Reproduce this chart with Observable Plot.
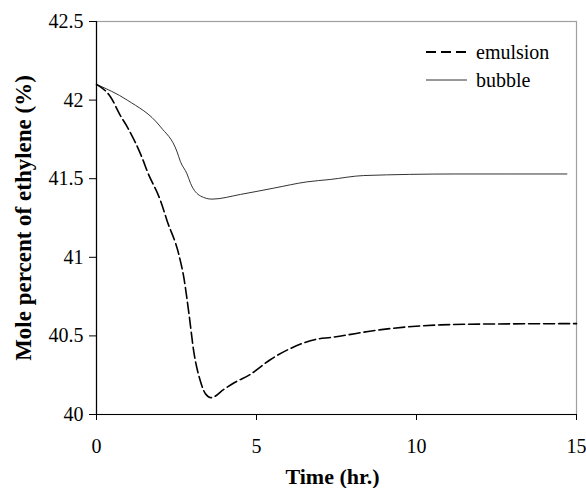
<!DOCTYPE html>
<html>
<head>
<meta charset="utf-8">
<script src="https://cdn.jsdelivr.net/npm/d3@7"></script>
<script src="https://cdn.jsdelivr.net/npm/@observablehq/plot@0.6"></script>
<style>
  body { margin: 0; background: #fff; }
  #wrap { position: relative; width: 586px; height: 488px; }
  #legend { position: absolute; left: 426px; top: 38px; font-size: 20px; line-height: 28px; }
  #legend div { display: flex; align-items: center; height: 28px; }
  #legend svg { margin-right: 9px; }
</style>
</head>
<body>
<div id="wrap"></div>
<script>
const emulsionT = [0, 0.44, 0.75, 0.96, 1.47, 1.58, 2.0, 2.21, 2.57, 2.73, 2.89, 3.04, 3.25, 3.41, 3.58, 3.98, 4.29, 4.81, 5.44, 6.06, 6.9, 7.31, 8.9, 10.75, 12.5, 15];
const emulsionY = [42.1, 42.02, 41.9, 41.83, 41.61, 41.55, 41.36, 41.23, 41.02, 40.87, 40.64, 40.4, 40.21, 40.13, 40.107, 40.16, 40.2, 40.256, 40.35, 40.42, 40.48, 40.49, 40.54, 40.57, 40.576, 40.578];
const bubbleT = [0, 0.96, 2.0, 2.52, 2.62, 2.83, 2.94, 3.25, 3.61, 4.5, 5.54, 6.58, 7.3, 8.35, 11.2, 14.7];
const bubbleY = [42.1, 42.0, 41.83, 41.67, 41.61, 41.53, 41.47, 41.39, 41.37, 41.40, 41.44, 41.48, 41.495, 41.52, 41.53, 41.53];
const xTicks = [0, 5, 10, 15];
const yTicks = [40, 40.5, 41, 41.5, 42, 42.5];
const seriesNames = ["emulsion", "bubble"];
const xTitle = "Time (hr.)";
const yTitle = "Mole percent of ethylene (%)";

const emulsion = emulsionT.map((t, i) => ({t, v: emulsionY[i]}));
const bubble = bubbleT.map((t, i) => ({t, v: bubbleY[i]}));
const FONT = "'Liberation Serif', serif";

const chart = Plot.plot({
  width: 586,
  height: 488,
  marginLeft: 96,
  marginRight: 10,
  marginTop: 21,
  marginBottom: 74,
  style: { fontFamily: FONT, background: "#fff", color: "#000" },
  x: { domain: [xTicks[0], xTicks[xTicks.length - 1]] },
  y: { domain: [yTicks[0], yTicks[yTicks.length - 1]] },
  marks: [
    Plot.frame({ stroke: "#a0a0a0", strokeWidth: 1.2 }),
    Plot.line(bubble, { x: "t", y: "v", stroke: "#333", strokeWidth: 1, curve: "monotone-x" }),
    Plot.line(emulsion, { x: "t", y: "v", stroke: "#000", strokeWidth: 1.6, strokeDasharray: "11,4", curve: "monotone-x" }),
    Plot.ruleY([yTicks[0]], { stroke: "#000", strokeWidth: 1.2 }),
    Plot.ruleX([xTicks[0]], { stroke: "#000", strokeWidth: 1.2 }),
    Plot.axisX({ ticks: xTicks, tickSize: 6, tickPadding: 18, fontSize: 20, label: null, tickFormat: d => String(d) }),
    Plot.axisY({ ticks: yTicks, tickSize: 7, tickPadding: 6, fontSize: 20, label: null, tickFormat: d => String(d) }),
    Plot.text([xTitle], { text: d => d, frameAnchor: "bottom", textAnchor: "middle", dy: 62, dx: -4, lineAnchor: "middle", fontSize: 22, fontWeight: "bold" }),
    Plot.text([yTitle], { text: d => d, frameAnchor: "left", textAnchor: "middle", dx: -73, rotate: -90, lineAnchor: "middle", fontSize: 23, fontWeight: "bold" })
  ]
});

d3.select(chart).selectAll("text, g").style("font-family", FONT);

const wrap = document.getElementById("wrap");
wrap.appendChild(chart);

const legend = document.createElement("div");
legend.id = "legend";
legend.style.fontFamily = FONT;
legend.innerHTML = `
  <div><svg width="41" height="4"><line x1="0" y1="2" x2="41" y2="2" stroke="#000" stroke-width="2" stroke-dasharray="10,5"/></svg><span style="font-family:'Liberation Serif',serif">${seriesNames[0]}</span></div>
  <div><svg width="41" height="4"><line x1="0" y1="2" x2="41" y2="2" stroke="#333" stroke-width="1"/></svg><span style="font-family:'Liberation Serif',serif">${seriesNames[1]}</span></div>`;
wrap.appendChild(legend);
</script>
</body>
</html>
